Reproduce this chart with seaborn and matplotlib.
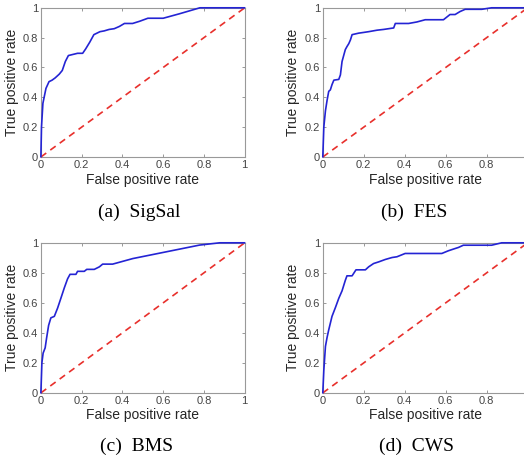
import numpy as np
import pandas as pd
import matplotlib
matplotlib.use("Agg")
import matplotlib.pyplot as plt
import seaborn as sns

# ROC curves (false positive rate, true positive rate)
sigsal_fpr = [0, 0.003, 0.01, 0.016, 0.025, 0.04, 0.055, 0.07, 0.09, 0.105, 0.12, 0.135,
              0.165, 0.18, 0.205, 0.22, 0.24, 0.26, 0.29, 0.31, 0.335, 0.36, 0.385, 0.41,
              0.45, 0.485, 0.525, 0.6, 0.68, 0.78, 1.0]
sigsal_tpr = [0, 0.2, 0.36, 0.40, 0.46, 0.505, 0.515, 0.53, 0.555, 0.58, 0.64, 0.68,
              0.69, 0.695, 0.695, 0.725, 0.77, 0.82, 0.84, 0.845, 0.855, 0.86, 0.875, 0.895,
              0.895, 0.91, 0.93, 0.93, 0.96, 1.0, 1.0]

fes_fpr = [0, 0.005, 0.013, 0.021, 0.029, 0.037, 0.045, 0.054, 0.078, 0.086, 0.094, 0.102,
           0.11, 0.118, 0.127, 0.135, 0.143, 0.159, 0.175, 0.2, 0.224, 0.265, 0.297, 0.346,
           0.354, 0.419, 0.459, 0.5, 0.589, 0.621, 0.646, 0.67, 0.695, 0.776, 0.824, 1.0]
fes_tpr = [0, 0.2, 0.31, 0.38, 0.44, 0.45, 0.485, 0.515, 0.52, 0.55, 0.64, 0.68,
           0.72, 0.74, 0.76, 0.785, 0.82, 0.825, 0.83, 0.835, 0.84, 0.85, 0.855, 0.865,
           0.895, 0.895, 0.905, 0.92, 0.92, 0.955, 0.955, 0.975, 0.99, 0.99, 1.0, 1.0]

bms_fpr = [0, 0.005, 0.011, 0.021, 0.028, 0.038, 0.049, 0.066, 0.082, 0.098, 0.115, 0.131,
           0.143, 0.172, 0.18, 0.213, 0.225, 0.262, 0.287, 0.303, 0.352, 0.451, 0.615,
           0.779, 0.877, 1.0]
bms_tpr = [0, 0.2, 0.265, 0.3, 0.365, 0.45, 0.5, 0.51, 0.565, 0.63, 0.70, 0.76,
           0.79, 0.79, 0.81, 0.81, 0.823, 0.823, 0.84, 0.858, 0.858, 0.895, 0.94,
           0.985, 1.0, 1.0]

cws_fpr = [0, 0.005, 0.013, 0.021, 0.029, 0.045, 0.062, 0.078, 0.094, 0.11, 0.118, 0.143,
           0.162, 0.208, 0.224, 0.248, 0.273, 0.305, 0.338, 0.362, 0.402, 0.581, 0.613,
           0.646, 0.662, 0.686, 0.824, 0.873, 1.0]
cws_tpr = [0, 0.15, 0.31, 0.37, 0.42, 0.51, 0.57, 0.63, 0.68, 0.75, 0.78, 0.78,
           0.82, 0.82, 0.84, 0.862, 0.873, 0.889, 0.902, 0.907, 0.929, 0.929, 0.947,
           0.962, 0.969, 0.984, 0.984, 1.0, 1.0]

captions = ["(a)  SigSal", "(b)  FES", "(c)  BMS", "(d)  CWS"]
ticks = [0, 0.2, 0.4, 0.6, 0.8, 1]
tick_labels = ["0", "0.2", "0.4", "0.6", "0.8", "1"]

sns.set_theme(style="white")
plt.rcParams['font.family'] = ['Liberation Sans', 'DejaVu Sans']

fig = plt.figure(figsize=(5.24, 4.59), dpi=100)

# axes placed by hand to match the 2x2 layout of the reference
boxes = [
    [0.078, 0.658, 0.389, 0.325],
    [0.616, 0.658, 0.391, 0.325],
    [0.078, 0.144, 0.389, 0.327],
    [0.616, 0.144, 0.391, 0.327],
]
cap_pos = [(0.265, 0.538), (0.79, 0.538), (0.26, 0.028), (0.795, 0.028)]

curves = [(sigsal_fpr, sigsal_tpr), (fes_fpr, fes_tpr), (bms_fpr, bms_tpr), (cws_fpr, cws_tpr)]

for box, (fpr, tpr), cap, cp in zip(boxes, curves, captions, cap_pos):
    ax = fig.add_axes(box)
    df = pd.DataFrame({"fpr": fpr, "tpr": tpr})
    sns.lineplot(data=df, x="fpr", y="tpr", sort=False, estimator=None,
                 color="#2424d4", linewidth=1.2, clip_on=False, zorder=5, ax=ax)
    sns.lineplot(x=[0, 1], y=[0, 1], color="#e8302c", linestyle=(0, (4, 3)),
                 linewidth=1.2, clip_on=False, zorder=4, ax=ax)
    ax.set_xlim(0, 1)
    ax.set_ylim(0, 1)
    ax.set_xticks(ticks)
    ax.set_xticklabels(tick_labels)
    ax.set_yticks(ticks)
    ax.set_yticklabels(tick_labels)
    ax.tick_params(direction="in", length=2.5, width=0.6, color="#888888",
                   labelsize=8, labelcolor="#444444", pad=2,
                   top=True, right=True, bottom=True, left=True)
    for s in ax.spines.values():
        s.set_color("#999999")
        s.set_linewidth(0.8)
    ax.set_xlabel("False positive rate", fontsize=10, color="#262626", labelpad=2)
    ax.set_ylabel("True positive rate", fontsize=10, color="#262626", labelpad=3)
    fig.text(cp[0], cp[1], cap, ha="center", va="center", fontsize=14,
             family=["Liberation Serif"], color="black")

fig.savefig("out.png", dpi=100)
